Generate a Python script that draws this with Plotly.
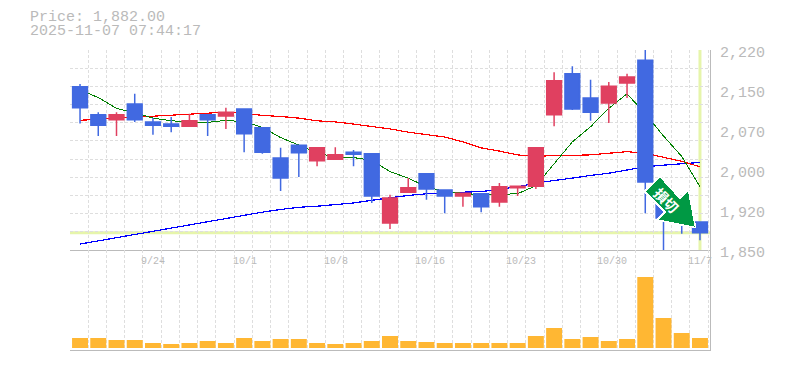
import plotly.graph_objects as go

dates = ["9/17","9/18","9/19","9/22","9/24","9/25","9/26","9/29","9/30","10/1","10/2","10/3","10/6","10/7","10/8","10/9","10/10",
         "10/14","10/15","10/16","10/17","10/20","10/21","10/22","10/23","10/24","10/27","10/28","10/29","10/30","10/31","11/4","11/5","11/6","11/7"]
opens  = [2152,2100,2091,2120,2087,2083,2079,2100,2098,2111,2076,2020,2044,2015,2018,2031,2028,1900,1957,1991,1961,1950,1954,1939,1965,1968,2100,2176,2131,2122,2159,2201,1943,1930,1902]
highs  = [2157,2105,2105,2139,2094,2096,2102,2100,2113,2111,2076,2039,2044,2039,2040,2035,2028,1952,1983,1991,1961,1955,1955,1974,1968,2039,2179,2190,2165,2161,2176,2224,1943,1930,1902]
lows   = [2084,2061,2061,2087,2063,2068,2078,2061,2074,2031,2028,1959,1985,2005,2018,2005,1937,1889,1957,1943,1918,1930,1920,1930,1950,1963,2079,2109,2089,2085,2131,1918,1845,1880,1868]
closes = [2113,2081,2100,2091,2081,2079,2089,2091,2105,2065,2031,1983,2030,2039,2026,2027,1950,1946,1965,1963,1950,1955,1930,1967,1968,2039,2163,2111,2105,2153,2170,1976,1909,1902,1882]
ma5  = [2146,2132,2112,2104,2094,2089,2087,2086,2090,2087,2077,2058,2044,2030,2021,2021,2016,1995,1983,1967,1958,1955,1952,1953,1954,1969,2010,2050,2078,2112,2139,2102,2061,2023,1967]
ma25 = [2090,2092,2094,2096,2097,2099,2101,2103,2105,2103,2099,2097,2094,2089,2087,2083,2079,2074,2068,2063,2059,2050,2039,2033,2026,2023,2025,2025,2026,2029,2032,2029,2021,2014,2004]
ma75 = [1861,1867,1873,1879,1885,1891,1896,1903,1908,1915,1920,1925,1929,1931,1934,1937,1942,1947,1951,1954,1956,1957,1958,1962,1967,1974,1978,1983,1988,1992,1998,2004,2007,2010,2012]
volume = [100,100,80,80,50,40,50,70,50,100,70,90,90,50,40,50,70,120,70,60,50,50,50,50,50,120,200,90,110,70,90,710,300,150,100]
price_ticks = [2220,2146,2072,1998,1924,1850]
price_labels = ["2,220","2,150","2,070","2,000","1,920","1,850"]
date_label_idx = [4,9,14,19,24,29,34]
last_price = 1882
title_lines = ["Price: 1,882.00", "2025-11-07 07:44:17"]
signal_label = "<b>損切</b>"

TEXT = "#bababa"
GRID = "#dedede"
AXIS = "#bbbbbb"
MONO = "Liberation Mono"
W, H = 785, 370
L, R, T, B = 70, 75, 50, 20
xs = list(range(len(dates)))
xrange_ = [-0.55, 34.55]
yr = [1850, 2220]

def px(x, y):
    return (x - L) / (W - L - R), (H - B - y) / (H - T - B)

def to_data(x, y):
    return (xrange_[0] + (x - L) / (W - L - R) * (xrange_[1] - xrange_[0]),
            yr[0] + (T + 200 - y) / 200 * (yr[1] - yr[0]))

fig = go.Figure()
for vals, col, w in [(ma75, "#0000ff", 1.2), (ma25, "#ff0000", 1.2), (ma5, "#008000", 1.0)]:
    fig.add_trace(go.Scatter(x=xs, y=vals, mode="lines", line=dict(color=col, width=w), hoverinfo="skip", showlegend=False, xaxis="x", yaxis="y"))
fig.add_trace(go.Candlestick(x=xs, open=opens, high=highs, low=lows, close=closes, xaxis="x", yaxis="y2",
    increasing=dict(line=dict(color="#e04060", width=1.5), fillcolor="#e04060"),
    decreasing=dict(line=dict(color="#4169e1", width=1.5), fillcolor="#4169e1"),
    whiskerwidth=0, showlegend=False, hoverinfo="skip"))

# signal arrow outline, given in page pixels and mapped to the axes
arrow_px = [(660,176.5),(644.5,191.5),(665,212),(657,220),(695.5,227.5),(688.5,190),(680,198.5),(660,176.5)]
arrow = [to_data(*p) for p in arrow_px]
fig.add_trace(go.Scatter(x=[a for a, _ in arrow], y=[b for _, b in arrow], mode="lines", fill="toself", fillcolor="#009944",
                         line=dict(color="white", width=1.5), hoverinfo="skip", showlegend=False, xaxis="x", yaxis="y2"))

fig.add_trace(go.Bar(x=xs, y=volume, marker=dict(color="#ffb733", line=dict(width=0)), width=0.875, xaxis="x2", yaxis="y3", showlegend=False, hoverinfo="skip"))

grid = dict(showgrid=True, gridcolor=GRID, griddash="3px,2px", gridwidth=1, zeroline=False, showticklabels=False, ticks="")
fig.update_layout(
    width=W, height=H, margin=dict(l=L, r=R, t=T, b=B), paper_bgcolor="white", plot_bgcolor="white", showlegend=False,
    boxgap=0.1, boxgroupgap=0.1,
    xaxis=dict(domain=[0,1], range=xrange_, anchor="y", tick0=-0.55, dtick=1, rangeslider=dict(visible=False), showline=True, linecolor=AXIS, linewidth=1, **grid),
    xaxis2=dict(domain=[0,1], range=xrange_, anchor="y3", tick0=-0.55, dtick=1, showline=True, linecolor=AXIS, linewidth=1, **grid),
    yaxis=dict(domain=[1/3,1], range=yr, anchor="x", side="right", tick0=1850, dtick=370/11, showline=True, linecolor=AXIS, linewidth=1, **grid),
    yaxis2=dict(domain=[1/3,1], range=yr, overlaying="y", side="right", showgrid=False, zeroline=False, showticklabels=False, ticks=""),
    yaxis3=dict(domain=[0,1/3], range=[-20,980], anchor="x2", side="right", showgrid=False, zeroline=False, showticklabels=False, ticks="", showline=True, linecolor=AXIS, linewidth=1),
)

guide = "#e6f5ab"
fig.add_shape(type="line", xref="paper", yref="y", x0=0, x1=1, y0=last_price, y1=last_price, line=dict(color=guide, width=3), layer="below")
fig.add_shape(type="line", xref="x", yref="y", x0=xs[-1], x1=xs[-1], y0=yr[0], y1=yr[1], line=dict(color=guide, width=3), layer="below")

cx, cy = px(666.7, 199.5)
fig.add_annotation(xref="paper", yref="paper", x=cx, y=cy, text=signal_label, textangle=45, showarrow=False, xanchor="center", yanchor="middle",
                   font=dict(family="Noto Sans CJK JP", size=14, color="#ffffff"))

for v, t in zip(price_ticks, price_labels):
    fig.add_annotation(xref="paper", yref="y", x=1, y=v, yshift=-3, xshift=8, text=t, showarrow=False, xanchor="left", yanchor="middle",
                       font=dict(family=MONO, size=15, color=TEXT))
for i in date_label_idx:
    fig.add_annotation(xref="x", yref="paper", x=xs[i], y=1/3, yshift=-4, xshift=-13.5, text=dates[i], showarrow=False, xanchor="left", yanchor="top",
                       font=dict(family=MONO, size=10, color=TEXT))
for line, y in zip(title_lines, [18, 32]):
    ax, ay = px(28, y)
    fig.add_annotation(xref="paper", yref="paper", x=ax, y=ay, text=line, showarrow=False, xanchor="left", yanchor="middle",
                       font=dict(family=MONO, size=15, color=TEXT))

fig.write_html("out.html", config=dict(displayModeBar=False), post_script="""
document.body.style.margin='0';
document.querySelectorAll('.scatterlayer path.js-line').forEach(function(p){p.style.shapeRendering='crispEdges';});
""")
